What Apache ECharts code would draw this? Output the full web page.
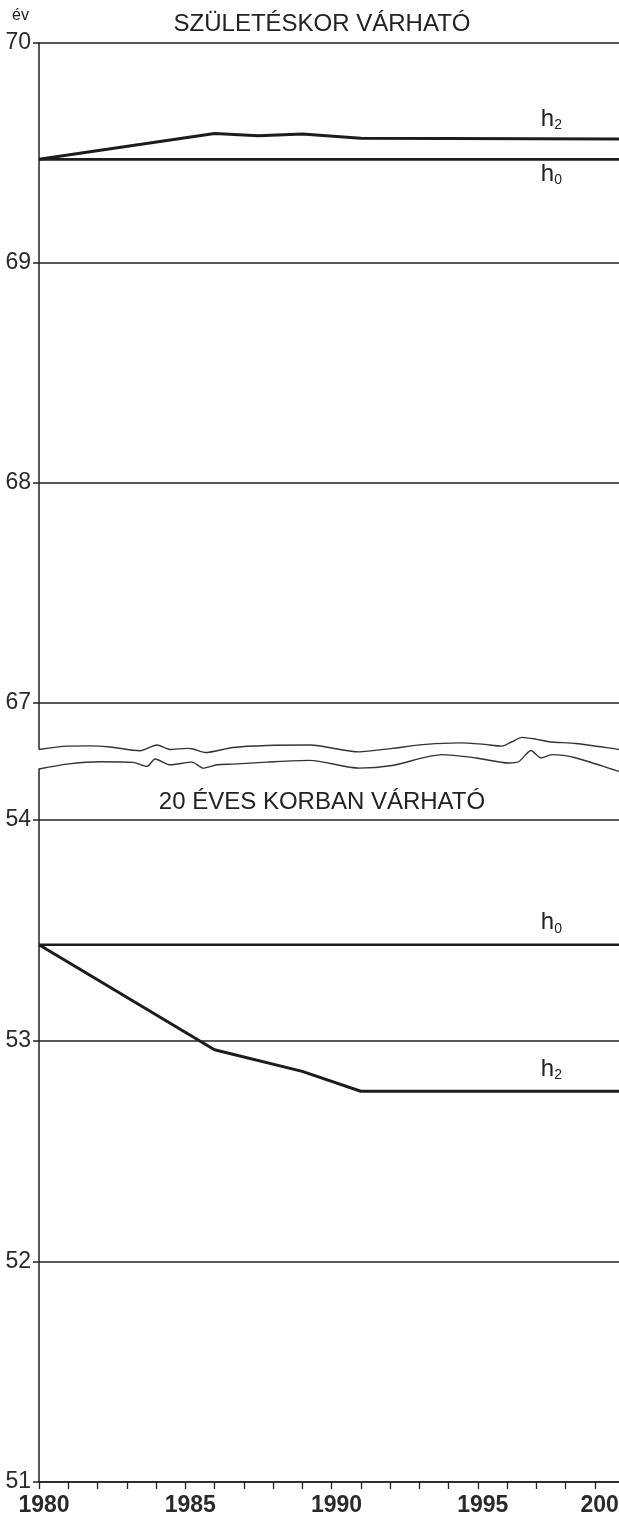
<!DOCTYPE html>
<html><head><meta charset="utf-8">
<script src="https://cdn.jsdelivr.net/npm/echarts@6/dist/echarts.min.js"></script>
<style>html,body{margin:0;padding:0;background:#fff}#c{width:619px;height:1523px}</style>
</head><body><div id="c"></div>
<script>
// ---- data ----
const xLabelYears = [1980, 1985, 1990, 1995, 2000];
const topTicks = [67, 68, 69, 70];
const bottomTicks = [51, 52, 53, 54];
const titleTop = 'SZÜLETÉSKOR VÁRHATÓ';
const titleBottom = '20 ÉVES KORBAN VÁRHATÓ';
const unitLabel = 'év';
// top panel: life expectancy at birth
const topH0 = [[1980, 69.471], [2000, 69.471]];
const topH2 = [[1980, 69.471], [1986, 69.589], [1987.5, 69.578], [1989, 69.586], [1991, 69.567], [2000, 69.563]];
// bottom panel: life expectancy at age 20
const bottomH0 = [[1980, 53.434], [2000, 53.434]];
const bottomH2 = [[1980, 53.434], [1986, 52.958], [1989, 52.86], [1991, 52.77], [2000, 52.77]];
// axis-break wavy lines
const breakUpper = [[1980, 66.788], [1980.96, 66.803], [1981.74, 66.804], [1982.43, 66.799], [1983.45, 66.782], [1984.03, 66.808], [1984.48, 66.788], [1985.06, 66.793], [1985.27, 66.790], [1985.68, 66.774], [1986.63, 66.797], [1987.79, 66.806], [1989.26, 66.808], [1990.94, 66.777], [1992.07, 66.793], [1993.23, 66.811], [1994.36, 66.818], [1995.15, 66.812], [1995.83, 66.803], [1996.17, 66.823], [1996.51, 66.843], [1996.99, 66.835], [1997.44, 66.823], [1998.36, 66.815], [1999.83, 66.788], [2000, 66.785]];
const breakLower = [[1980, 54.230], [1980.96, 54.252], [1982.09, 54.263], [1983.21, 54.260], [1983.69, 54.242], [1983.97, 54.275], [1984.48, 54.249], [1985.23, 54.261], [1985.61, 54.234], [1986.09, 54.249], [1986.63, 54.252], [1987.79, 54.261], [1989.26, 54.269], [1990.94, 54.234], [1992.07, 54.246], [1993.78, 54.295], [1994.94, 54.280], [1996.07, 54.257], [1996.41, 54.264], [1996.82, 54.314], [1997.16, 54.280], [1997.54, 54.295], [1998.36, 54.280], [1999.83, 54.219], [2000, 54.215]];

// ---- chart ----
const INK = '#222';
const FONT = 'Liberation Sans, Arial, sans-serif';
const chart = echarts.init(document.getElementById('c'), null, {renderer: 'canvas'});

function yAxisCfg(grid, min, max, ticks) {
  return {
    gridIndex: grid, type: 'value', min: min, max: max,
    axisLine: {show: true, lineStyle: {color: INK, width: 1.5}},
    axisTick: {show: true, length: 6, customValues: ticks, lineStyle: {color: INK, width: 1.5}},
    axisLabel: {customValues: ticks, margin: 8, fontSize: 23, color: '#2a2a2a', fontFamily: FONT},
    splitLine: {show: true, lineStyle: {color: INK, width: 1.5}}
  };
}
function lineSeries(xi, data, width, clip) {
  return {
    type: 'line', xAxisIndex: xi, yAxisIndex: xi, data: data, symbol: 'none',
    lineStyle: {color: '#1c1c1c', width: width}, silent: true, clip: clip, animation: false
  };
}
const wavy = (xi, data) => Object.assign(lineSeries(xi, data, 1.4, false), {smooth: 0.25, lineStyle: {color: '#333', width: 1.4}});
const yearStyle = {fontSize: 23, fontWeight: 'bold', color: '#2a2a2a', fontFamily: FONT};
const lastYear = xLabelYears[xLabelYears.length - 1];

chart.setOption({
  animation: false,
  backgroundColor: '#fff',
  grid: [
    {left: 39, width: 585, top: 43, height: 706, outerBoundsMode: 'none', containLabel: false},
    {left: 39, width: 585, top: 769, height: 713, outerBoundsMode: 'none', containLabel: false}
  ],
  xAxis: [
    {gridIndex: 0, type: 'value', min: 1980, max: 2000, show: false},
    {gridIndex: 1, type: 'value', min: 1980, max: 2000, interval: 1,
     axisLine: {show: true, lineStyle: {color: INK, width: 1.5}},
     axisTick: {show: true, length: 7, lineStyle: {color: INK, width: 1.3}},
     axisLabel: Object.assign({
       formatter: v => v === lastYear ? '{e|' + v + '}' : (xLabelYears.indexOf(v) >= 0 ? '{n|' + v + '}' : ''),
       margin: 12,
       rich: {
         n: Object.assign({padding: [0, 0, 0, 10]}, yearStyle),
         e: Object.assign({padding: [0, 36, 0, 0]}, yearStyle)
       }
     }, yearStyle),
     splitLine: {show: false}}
  ],
  yAxis: [yAxisCfg(0, 66.79, 70, topTicks), yAxisCfg(1, 51, 54.23, bottomTicks)],
  series: [
    lineSeries(0, topH0, 2.6, true),
    lineSeries(0, topH2, 3, true),
    lineSeries(1, bottomH0, 2.6, true),
    lineSeries(1, bottomH2, 3, true),
    wavy(0, breakUpper),
    wavy(1, breakLower)
  ]
});

function hLabel(x, y, sub) {
  return [
    {type: 'text', x: x, y: y, style: {text: 'h', fontSize: 24, fill: INK, fontFamily: FONT, align: 'left', verticalAlign: 'middle'}},
    {type: 'text', x: x + 13.5, y: y + 6, style: {text: sub, fontSize: 14, fill: INK, fontFamily: FONT, align: 'left', verticalAlign: 'middle'}}
  ];
}
const labelYear = 1997.15;
const pTopH2 = chart.convertToPixel({gridIndex: 0}, [labelYear, topH2[topH2.length - 1][1]]);
const pTopH0 = chart.convertToPixel({gridIndex: 0}, [labelYear, topH0[1][1]]);
const pBotH0 = chart.convertToPixel({gridIndex: 1}, [labelYear, bottomH0[1][1]]);
const pBotH2 = chart.convertToPixel({gridIndex: 1}, [labelYear, bottomH2[bottomH2.length - 1][1]]);

chart.setOption({
  graphic: [
    {type: 'text', x: 12, y: 16, style: {text: unitLabel, fontSize: 16, fill: INK, fontFamily: FONT, align: 'left', verticalAlign: 'middle'}},
    {type: 'text', x: 322, y: 24, style: {text: titleTop, fontSize: 24, fill: INK, fontFamily: FONT, align: 'center', verticalAlign: 'middle'}},
    {type: 'text', x: 322, y: 802, style: {text: titleBottom, fontSize: 24, fill: INK, fontFamily: FONT, align: 'center', verticalAlign: 'middle'}}
  ].concat(
    hLabel(pTopH2[0], pTopH2[1] - 20, '2'),
    hLabel(pTopH0[0], pTopH0[1] + 15, '0'),
    hLabel(pBotH0[0], pBotH0[1] - 22, '0'),
    hLabel(pBotH2[0], pBotH2[1] - 22, '2')
  )
});
</script></body></html>
